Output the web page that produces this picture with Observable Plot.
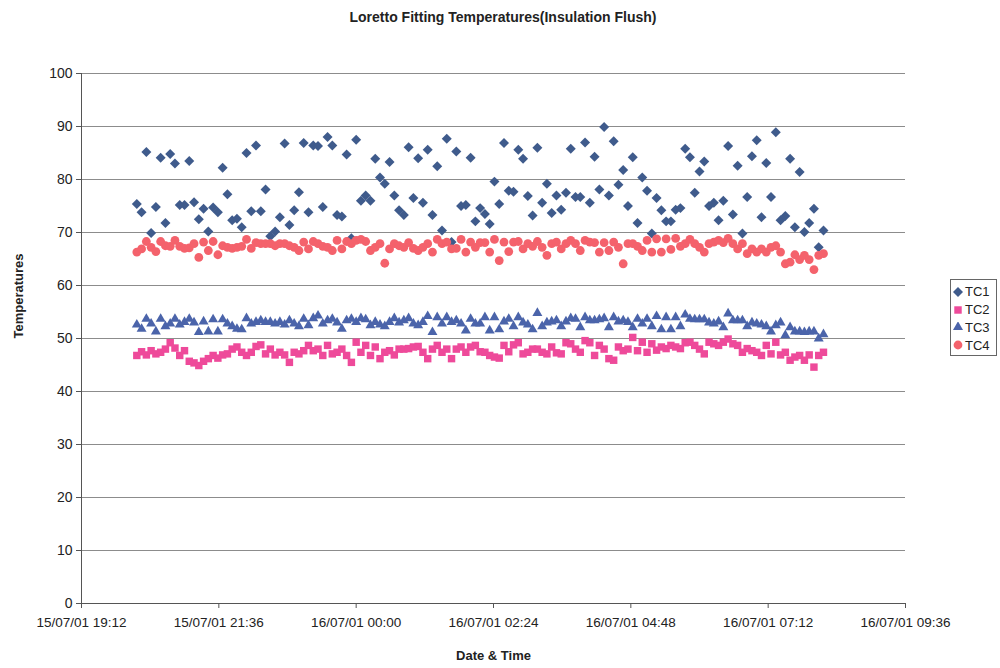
<!DOCTYPE html>
<html>
<head>
<meta charset="utf-8">
<script src="https://cdn.jsdelivr.net/npm/d3@7"></script>
<script src="https://cdn.jsdelivr.net/npm/@observablehq/plot@0.6"></script>
<style>
  body { margin: 0; background: #fff; font-family: "Liberation Sans", Arial, sans-serif; }
  #chart { position: relative; width: 1000px; height: 668px; overflow: hidden; }
  #title { height: 34px; line-height: 34px; text-align: center; font-weight: bold; font-size: 14px; color: #222; padding-left: 6px; box-sizing: border-box; }
  #legend { position: absolute; left: 950px; top: 279px; width: 47px; height: 77px; border: 1px solid #666; box-sizing: border-box; background: #fff; padding-top: 3px; }
  .item { height: 17.8px; display: flex; align-items: center; font-size: 13px; color: #222; }
  .item svg { margin: 0 2px 0 2px; }
</style>
</head>
<body>
<div id="chart">
  <div id="title">Loretto Fitting Temperatures(Insulation Flush)</div>
  <div id="plot"></div>
  <div id="legend"></div>
</div>
<script>
// Thermocouple readings, logged every 5 minutes
const seriesNames = ["TC1", "TC2", "TC3", "TC4"];
const firstReading = "15/07/01 20:10";
const intervalMinutes = 5;

const tc1 = [
  75.4, 73.8, 85.2, 69.9, 74.8, 84.1, 71.8, 84.8, 83.0, 75.2,
  75.2, 83.5, 75.7, 72.5, 74.5, 70.2, 74.7, 73.8, 82.2, 77.2,
  72.3, 72.6, 71.0, 85.0, 74.0, 86.4, 74.0, 78.1, 69.3, 70.2,
  72.9, 86.8, 71.4, 74.2, 77.6, 86.9, 73.8, 86.4, 86.3, 74.8,
  88.0, 86.4, 73.3, 73.0, 84.7, 68.9, 87.5, 76.0, 77.0, 76.0,
  83.9, 80.4, 79.2, 83.3, 77.0, 74.2, 73.3, 86.1, 76.5, 84.0,
  75.6, 85.6, 73.3, 82.5, 70.4, 87.7, 68.2, 85.3, 75.0, 75.2,
  84.1, 72.1, 74.6, 73.5, 71.6, 79.6, 75.4, 86.9, 77.9, 77.7,
  85.6, 83.9, 76.9, 73.2, 86.0, 75.6, 79.2, 73.7, 77.0, 74.3,
  77.5, 85.8, 76.7, 76.7, 87.0, 75.6, 84.3, 78.1, 89.9, 77.0,
  87.2, 79.0, 81.8, 75.0, 84.2, 71.8, 80.4, 77.9, 69.8, 76.5,
  74.2, 72.1, 72.1, 74.3, 74.6, 85.8, 84.2, 77.5, 81.5, 83.4,
  75.0, 75.6, 72.3, 76.0, 86.3, 73.4, 82.6, 69.8, 76.7, 84.4,
  87.4, 72.9, 83.1, 76.7, 88.9, 72.3, 73.1, 83.9, 71.0, 81.4,
  70.1, 71.8, 74.5, 67.2, 70.4
];

const tc2 = [
  46.8, 47.5, 46.9, 47.7, 47.1, 47.4, 48.0, 49.2, 48.2, 46.8,
  47.7, 45.7, 45.4, 44.9, 45.7, 46.2, 46.8, 46.3, 46.9, 47.1,
  48.0, 48.4, 47.4, 46.8, 47.4, 48.5, 48.8, 47.1, 48.0, 46.9,
  47.4, 46.9, 45.5, 47.4, 47.1, 47.7, 48.7, 47.7, 48.0, 46.8,
  48.7, 47.1, 47.4, 48.0, 46.8, 45.5, 49.3, 47.4, 48.7, 46.8,
  48.4, 46.2, 47.4, 47.7, 46.9, 48.0, 48.0, 48.1, 48.4, 48.5,
  47.4, 46.2, 48.0, 48.7, 47.4, 48.0, 46.2, 48.0, 48.4, 47.4,
  48.4, 48.7, 47.5, 47.4, 46.8, 46.5, 46.3, 48.7, 47.5, 48.8,
  49.2, 47.1, 47.4, 48.0, 48.0, 47.4, 47.1, 48.4, 47.3, 47.1,
  49.2, 49.0, 48.0, 47.4, 49.6, 49.2, 46.8, 48.7, 48.0, 46.2,
  45.9, 48.4, 47.7, 48.0, 50.2, 47.7, 49.3, 47.4, 49.0, 47.8,
  48.4, 48.1, 48.7, 48.4, 48.1, 49.2, 49.3, 48.7, 48.0, 47.1,
  49.3, 49.0, 48.7, 49.3, 49.9, 49.0, 48.7, 47.4, 48.1, 47.7,
  47.4, 46.8, 48.7, 47.1, 49.3, 46.9, 47.4, 45.9, 46.5, 46.8,
  45.9, 46.9, 44.6, 46.8, 47.4
];

const tc3 = [
  52.6, 51.8, 53.7, 52.8, 51.3, 53.7, 52.3, 52.8, 53.7, 52.6,
  53.1, 53.7, 53.0, 51.2, 53.2, 51.3, 53.6, 51.3, 53.6, 52.8,
  52.3, 51.8, 51.7, 53.8, 52.8, 53.1, 53.4, 53.1, 53.1, 52.8,
  53.1, 52.6, 53.4, 52.8, 52.3, 53.7, 52.5, 53.8, 54.3, 52.8,
  53.4, 53.7, 53.0, 51.8, 53.4, 53.7, 53.1, 53.8, 53.6, 52.5,
  53.1, 52.6, 52.3, 53.1, 53.8, 53.0, 53.4, 53.8, 52.8, 52.5,
  53.1, 54.2, 51.2, 54.0, 52.8, 54.0, 53.1, 53.4, 52.8, 51.5,
  53.7, 52.8, 52.8, 54.0, 51.5, 54.0, 51.7, 53.2, 53.7, 52.3,
  54.0, 53.0, 52.6, 51.7, 54.8, 52.3, 53.0, 53.2, 53.4, 52.3,
  53.2, 53.8, 53.7, 52.1, 54.0, 53.4, 53.4, 53.6, 53.8, 52.1,
  54.0, 53.2, 53.4, 53.1, 52.1, 53.7, 52.8, 53.7, 52.3, 54.2,
  51.7, 54.0, 51.7, 54.0, 52.3, 54.5, 53.7, 53.6, 53.6, 53.6,
  53.0, 52.8, 53.2, 52.1, 54.7, 53.4, 53.4, 53.4, 52.3, 53.0,
  52.8, 52.6, 52.3, 51.3, 52.5, 53.0, 50.6, 52.1, 51.3, 51.3,
  51.2, 51.3, 51.3, 50.0, 50.8
];

const tc4 = [
  66.3, 66.9, 68.3, 67.2, 66.4, 68.3, 67.5, 67.4, 68.5, 67.4,
  67.0, 67.1, 67.9, 65.3, 68.2, 66.6, 68.3, 65.8, 67.5, 67.2,
  67.0, 67.2, 67.4, 68.7, 67.0, 68.1, 67.9, 67.9, 67.9, 67.5,
  67.9, 67.9, 67.5, 67.2, 66.6, 68.2, 66.9, 68.3, 67.9, 67.4,
  67.2, 66.6, 68.5, 66.9, 68.3, 67.9, 68.5, 68.7, 68.3, 66.6,
  67.2, 67.9, 64.2, 66.9, 67.9, 67.5, 67.2, 68.1, 67.0, 66.6,
  67.2, 67.9, 66.3, 68.7, 67.9, 68.2, 66.9, 67.0, 68.7, 66.3,
  68.2, 67.2, 68.1, 68.1, 66.3, 68.7, 64.7, 68.2, 66.4, 68.2,
  68.3, 66.9, 67.9, 67.4, 68.3, 67.2, 65.7, 67.9, 68.2, 66.9,
  67.9, 68.5, 67.9, 66.6, 68.5, 68.2, 68.1, 66.3, 68.1, 66.6,
  68.2, 67.2, 64.1, 67.9, 67.9, 67.4, 66.6, 68.5, 66.3, 68.8,
  66.3, 68.8, 66.8, 68.9, 67.4, 67.9, 68.7, 67.9, 67.2, 66.3,
  67.9, 68.2, 68.5, 68.1, 68.9, 67.9, 66.9, 67.9, 66.0, 66.9,
  66.3, 66.9, 66.3, 67.2, 67.5, 66.3, 64.1, 64.4, 65.8, 64.9,
  65.7, 64.9, 63.0, 65.7, 66.0
];

const tickLabels = [
  "15/07/01 19:12", "15/07/01 21:36", "16/07/01 00:00", "16/07/01 02:24",
  "16/07/01 04:48", "16/07/01 07:12", "16/07/01 09:36"
];
const yTicks = [0, 10, 20, 30, 40, 50, 60, 70, 80, 90, 100];

const seriesValues = [tc1, tc2, tc3, tc4];
const seriesSymbols = ["diamond2", "square", "triangle", "circle"];
const seriesColors = ["#3f5b8c", "#ee4a9a", "#4b64aa", "#f4626c"];
const seriesRadius = [4.5, 4.2, 3.7, 4.4];

const parse = d3.utcParse("%d/%m/%y %H:%M");
const tickTimes = tickLabels.map(parse);
const t0 = parse(firstReading);

const rows = seriesNames.map((name, k) =>
  seriesValues[k].map((v, i) => ({
    series: name,
    time: new Date(+t0 + i * intervalMinutes * 60000),
    value: v
  }))
);

const font = '"Liberation Sans", Arial, sans-serif';

const chart = Plot.plot({
  width: 1000,
  height: 634,
  marginLeft: 81,
  marginRight: 95,
  marginTop: 39,
  marginBottom: 65,
  style: { fontFamily: font, fontSize: "14px", color: "#222", background: "transparent" },
  x: { type: "utc", domain: [tickTimes[0], tickTimes[tickTimes.length - 1]] },
  y: { domain: [0, 100] },
  marks: [
    Plot.gridY(yTicks.filter((d) => d > 0), { stroke: "#8c8c8c", strokeOpacity: 1 }),
    Plot.ruleY([0], { stroke: "#555" }),
    Plot.ruleX([tickTimes[0]], { stroke: "#555" }),
    Plot.axisX({
      ticks: tickTimes,
      tickFormat: (d, i) => tickLabels[i],
      tickSize: 5,
      tickPadding: 9,
      stroke: "#555",
      fontSize: 13.5,
      label: null
    }),
    Plot.axisY({
      ticks: yTicks,
      tickSize: 5,
      tickPadding: 4,
      stroke: "#555",
      fontSize: 14,
      label: null
    }),
    ...rows.map((data, k) =>
      Plot.dot(data, {
        x: "time",
        y: "value",
        symbol: seriesSymbols[k],
        r: seriesRadius[k],
        fill: seriesColors[k],
        stroke: "none"
      })
    ),
    Plot.text(["Date & Time"], {
      frameAnchor: "bottom",
      dy: 56,
      fontWeight: "bold",
      fontSize: 13,
      fill: "#222"
    }),
    Plot.text(["Temperatures"], {
      frameAnchor: "left",
      dx: -63,
      rotate: -90,
      fontWeight: "bold",
      fontSize: 13,
      fill: "#222"
    })
  ]
});
document.getElementById("plot").appendChild(chart);

// Legend: one glyph per series, same symbols and colours as the marks
const legend = document.getElementById("legend");
const symbolTypes = {
  diamond2: d3.symbolDiamond2,
  square: d3.symbolSquare,
  triangle: d3.symbolTriangle,
  circle: d3.symbolCircle
};
seriesNames.forEach((name, k) => {
  const item = document.createElement("div");
  item.className = "item";
  const r = seriesRadius[k];
  const path = d3.symbol(symbolTypes[seriesSymbols[k]], Math.PI * r * r)();
  item.innerHTML =
    `<svg width="10" height="10" viewBox="-5 -5 10 10"><path d="${path}" fill="${seriesColors[k]}"/></svg><span>${name}</span>`;
  legend.appendChild(item);
});
</script>
</body>
</html>
